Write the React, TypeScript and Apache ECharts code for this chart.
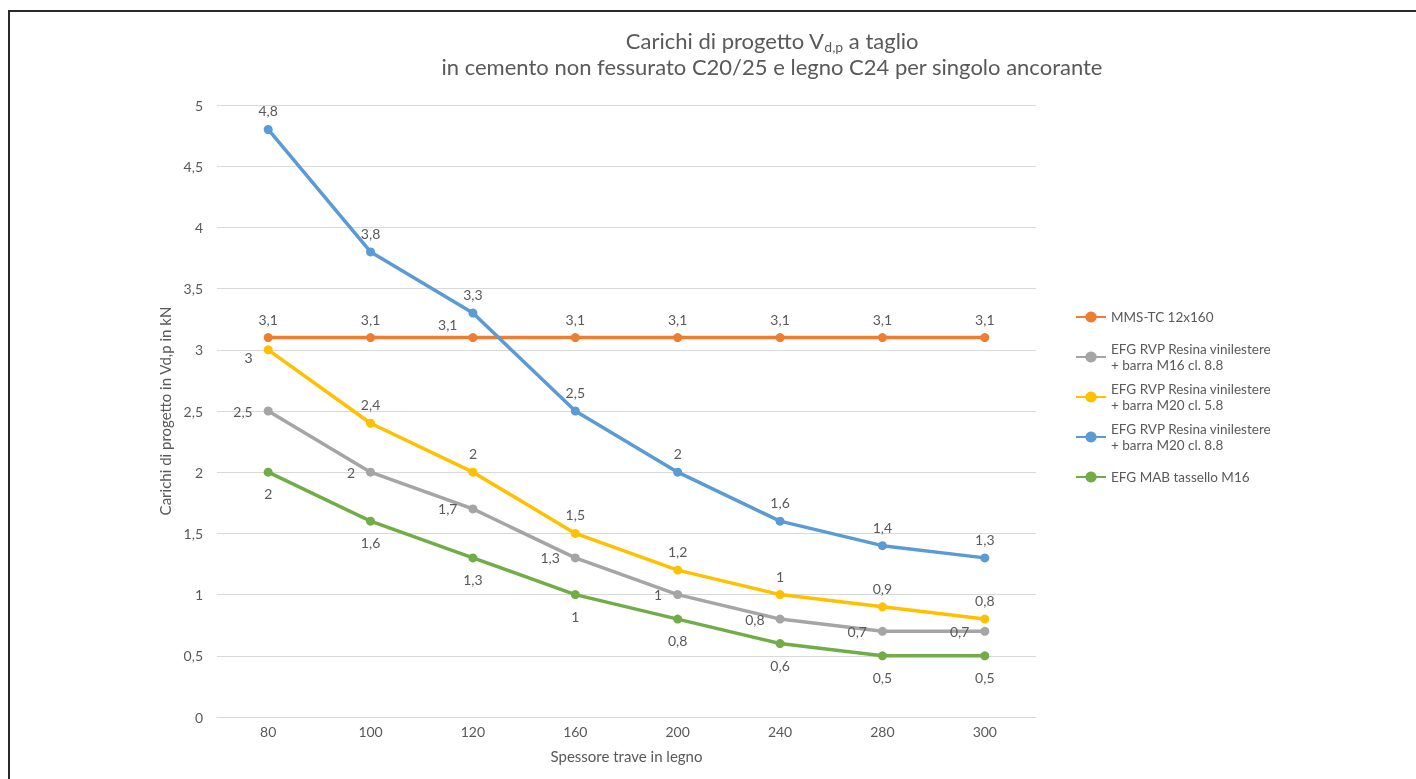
import React, { useEffect, useRef } from "react";
import * as echarts from "echarts";

const categories = ["80", "100", "120", "160", "200", "240", "280", "300"];
const seriesNames = [
  "MMS-TC 12x160",
  "EFG RVP Resina vinilestere\n+ barra M16 cl. 8.8",
  "EFG RVP Resina vinilestere\n+ barra M20 cl. 5.8",
  "EFG RVP Resina vinilestere\n+ barra M20 cl. 8.8",
  "EFG MAB tassello M16",
];
const mmsValues = [3.1, 3.1, 3.1, 3.1, 3.1, 3.1, 3.1, 3.1];
const m16_88Values = [2.5, 2, 1.7, 1.3, 1, 0.8, 0.7, 0.7];
const m20_58Values = [3, 2.4, 2, 1.5, 1.2, 1, 0.9, 0.8];
const m20_88Values = [4.8, 3.8, 3.3, 2.5, 2, 1.6, 1.4, 1.3];
const mabValues = [2, 1.6, 1.3, 1, 0.8, 0.6, 0.5, 0.5];
const yTicks = { min: 0, max: 5, interval: 0.5 };

const colors = ["#ED7D31", "#A5A5A5", "#FFC000", "#5B9BD5", "#70AD47"];
const FONT = "Lato, 'Open Sans', sans-serif";
const TXT = "#595959";

const fmt = (v: number) => String(v).replace(".", ",");

export default function App() {
  const ref = useRef<HTMLDivElement>(null);
  useEffect(() => {
    if (!ref.current) return;
    const chart = echarts.init(ref.current, null, { renderer: "svg" });
    const allValues = [mmsValues, m16_88Values, m20_58Values, m20_88Values, mabValues];
    const basePos = ["top", "left", "top", "top", "bottom"];
    const baseDist = [7, 11, 7, 7, 10];
    // per-point label overrides: [seriesIdx, pointIdx, position, offset]
    const overrides: Array<[number, number, string, number[]]> = [
      [0, 2, "left", [0, -13]],
      [2, 0, "left", [0, 8]],
    ];
    const series = allValues.map((vals, si) => ({
      type: "line",
      name: seriesNames[si],
      data: vals.map((v, pi) => {
        const o = overrides.find((x) => x[0] === si && x[1] === pi);
        if (o) {
          return { value: v, label: { position: o[2], offset: o[3], distance: 11 } };
        }
        return v;
      }),
      symbol: "circle",
      symbolSize: 9,
      lineStyle: { width: 3.5, color: colors[si] },
      itemStyle: { color: colors[si] },
      label: {
        show: true,
        position: basePos[si],
        distance: baseDist[si],
        color: TXT,
        fontSize: 14,
        fontFamily: FONT,
        formatter: (p: any) => fmt(p.value),
      },
    }));
    const legendTops = [309, 333, 373, 413, 469];
    const legends = seriesNames.map((n, i) => {
      const multi = n.includes("\n");
      return {
        orient: "vertical",
        left: 1075,
        top: legendTops[i],
        padding: 0,
        itemWidth: 30,
        itemHeight: 14,
        itemGap: 0,
        data: [n],
        textStyle: {
          color: TXT,
          fontSize: 13.5,
          fontFamily: FONT,
          lineHeight: 16,
          padding: multi ? [16, 0, 0, 0] : 0,
        },
      };
    });
    chart.setOption({
      animation: false,
      color: colors,
      textStyle: { fontFamily: FONT },
      title: {
        text:
          "Carichi di progetto V{sub|d,p} a taglio\nin cemento non fessurato C20/25 e legno C24 per singolo ancorante",
        left: 772,
        top: 27,
        padding: 0,
        textAlign: "center",
        textStyle: {
          fontSize: 22,
          fontWeight: "normal",
          color: TXT,
          fontFamily: FONT,
          lineHeight: 26,
          rich: {
            sub: {
              fontSize: 14,
              color: TXT,
              fontFamily: FONT,
              lineHeight: 16,
              verticalAlign: "bottom",
            },
          },
        },
      },
      legend: legends,
      grid: { left: 217, right: 380, top: 105, bottom: 62 },
      xAxis: {
        type: "category",
        data: categories,
        boundaryGap: true,
        name: "Spessore trave in legno",
        nameLocation: "middle",
        nameGap: 31,
        nameTextStyle: { color: TXT, fontSize: 15, fontFamily: FONT },
        axisLine: { show: true, lineStyle: { color: "#D9D9D9", width: 1 } },
        axisTick: { show: false },
        axisLabel: { color: TXT, fontSize: 14, fontFamily: FONT, margin: 7 },
      },
      yAxis: {
        type: "value",
        min: yTicks.min,
        max: yTicks.max,
        interval: yTicks.interval,
        name: "Carichi di progetto in Vd,p in kN",
        nameLocation: "middle",
        nameGap: 37,
        nameRotate: 90,
        nameTextStyle: { color: TXT, fontSize: 15, fontFamily: FONT },
        axisLine: { show: false },
        axisTick: { show: false },
        splitLine: { lineStyle: { color: "#D9D9D9", width: 1 } },
        axisLabel: {
          color: TXT,
          fontSize: 14,
          fontFamily: FONT,
          margin: 14,
          formatter: (v: number) => fmt(v),
        },
      },
      series,
    });
    return () => chart.dispose();
  }, []);
  return (
    <div style={{ position: "fixed", left: 0, top: 0, width: 1416, height: 779, overflow: "hidden" }}>
      <div ref={ref} style={{ position: "absolute", left: 0, top: 0, width: 1416, height: 779 }} />
      <div
        style={{
          position: "absolute",
          left: 8,
          top: 10,
          width: 3000,
          height: 3000,
          borderTop: "2px solid #2a2a2a",
          borderLeft: "2px solid #2a2a2a",
          pointerEvents: "none",
        }}
      />
    </div>
  );
}
